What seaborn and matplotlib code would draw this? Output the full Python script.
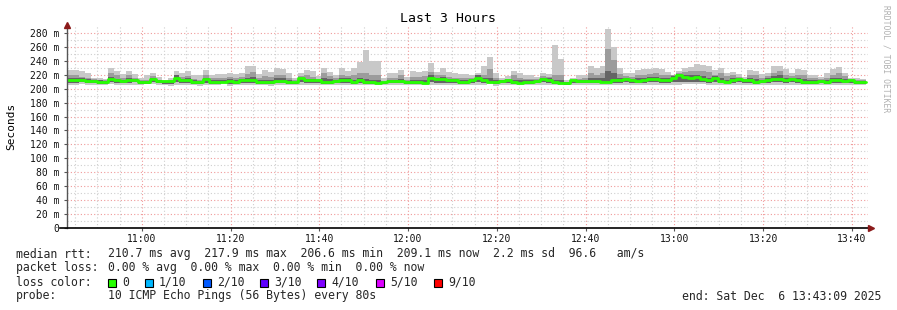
import numpy as np
import pandas as pd
import matplotlib
matplotlib.use("Agg")
import matplotlib.pyplot as plt
import seaborn as sns

# ---------------- data (ms), one value per 80 s step ----------------
hi = [227,227,226,222,216,216,214,230,225,221,
      225,221,215,219,223,217,212,216,225,223,
      226,219,220,227,220,221,221,222,221,222,
      232,233,221,227,224,229,228,223,215,222,
      227,226,218,230,224,220,229,225,230,238,
      255,240,240,215,222,223,227,217,226,224,
      225,237,224,229,224,223,221,221,220,223,
      233,246,222,215,218,226,223,219,220,217,
      222,221,263,243,212,216,220,220,232,229,
      232,285,260,229,222,222,227,228,228,230,
      228,224,220,226,230,231,235,234,233,227,
      229,223,224,221,217,227,226,221,223,232,
      233,228,222,228,227,219,220,217,222,228,
      231,222,216,215,214]
hi2 = [219,219,217,216,214,213,212,222,219,216,
       219,216,212,213,218,213,211,212,220,217,
       218,214,213,219,215,216,216,217,216,217,
       221,224,216,218,217,220,219,216,212,218,
       219,217,214,222,218,215,220,218,219,222,
       223,220,220,211,216,216,219,213,217,217,
       218,224,219,220,217,216,215,216,216,219,
       220,228,215,213,214,219,216,214,214,214,
       218,217,219,219,210,213,214,215,222,220,
       222,257,241,221,218,217,220,220,221,222,
       220,219,219,222,224,225,226,225,224,220,
       222,218,219,217,214,219,219,216,218,223,
       225,220,218,220,220,215,216,214,216,220,
       223,218,214,213,212]
hi3 = [215,215,215,214,213,212,211,217,214,213,
       215,214,211,211,216,212,210,210,219,214,
       215,212,211,216,213,213,213,214,213,214,
       216,217,213,212,213,215,215,213,210,216,
       214,214,213,215,214,213,216,215,213,216,
       214,213,213,210,213,213,214,211,212,213,
       212,219,216,217,214,214,212,213,214,219,
       215,216,212,212,213,213,212,212,212,212,
       216,215,213,212,209,213,212,213,215,215,
       215,225,222,216,216,214,215,215,217,217,
       215,216,218,221,220,219,220,218,216,218,
       215,213,215,216,213,215,214,213,215,218,
       219,216,216,216,214,212,213,212,213,215,
       216,214,213,211,211]
med = [212,212,213,211,211,210,209,214,212,211,
       212,213,210,209,214,211,211,211,216,212,
       212,209.5,209.5,214,210,210,210,211,210,212,
       213,212,210,209.5,209.5,211,211,209.5,209,215,
       212,212,212,209.5,209,211,212,212,210,213,
       210,209,208,210,211,211,211,209.5,209.5,209.5,
       208.6,216,214,214,212,212,209.5,210,213,216,
       212,210,209.5,211,212,210,208.6,210,209.5,211,
       214,213,209.5,208.6,207.6,212,211,211,211,211,
       210,210,212,213,214,212,211,212,214,214,
       212,213,216,219,217,216,217,214,212,215,
       211,210,213,214,212,212,210,211,213,214,
       214,213,214,212,210,209.5,210,211,210,212,
       212,211,212,210,210]
lo2 = [208,208,209,208,208,207,207,209,208,208,
       208,209,207,207,209,208,207,207,209,208,
       208,207,207,208,207,207,208,207,207,208,
       208,208,207,207,207,208,208,207,207,209,
       208,208,208,207,207,208,208,208,207,208,
       207,207,207,207,208,208,208,207,207,207,
       207,209,208,208,208,208,207,207,208,209,
       208,208,207,208,208,207,207,207,207,208,
       209,208,207,207,206,208,208,208,208,208,
       208,208,208,208,209,208,208,208,209,209,
       208,208,209,210,210,210,210,209,208,209,
       208,208,208,209,208,208,207,208,208,209,
       209,208,209,208,207,207,207,208,207,208,
       208,208,208,207,207]
lo = [206,206,207,206,206,206,205,207,206,206,
      205,206,205,207,207,206,205,204,206,206,
      206,205,204,205,206,206,207,204,206,205,
      206,206,206,205,204,206,205,206,206,206,
      206,206,206,205,206,205,206,206,205,206,
      206,206,205,205,206,206,206,205,205,206,
      206,206,205,206,206,206,205,206,206,205,
      206,207,204,205,206,205,205,206,205,206,
      206,206,206,206,205,206,206,206,206,206,
      206,206,206,206,206,206,206,206,206,205,
      206,206,206,206,207,207,207,207,206,206,
      206,206,206,206,206,206,206,206,206,205,
      206,206,206,206,205,205,206,206,206,206,
      206,206,206,206,206]

x_ticks = [60, 80, 100, 120, 140, 160, 180, 200, 220]
x_labels = ["11:00", "11:20", "11:40", "12:00", "12:20", "12:40", "13:00", "13:20", "13:40"]
y_ticks = [0, 20, 40, 60, 80, 100, 120, 140, 160, 180, 200, 220, 240, 260, 280]
y_labels = ["0"] + [f"{v} m" for v in y_ticks[1:]]

loss_labels = ["0", "1/10", "2/10", "3/10", "4/10", "5/10", "9/10"]
loss_colors = ["#26ff00", "#00b8ff", "#0059ff", "#5e00ff", "#7e00ff", "#dd00ff", "#ff0000"]

start_min = 43 + 9 / 60          # 10:43:09, minutes after 10:00
step_min = 80 / 60

# ---------------- build frame ----------------
n = len(med)
df = pd.DataFrame({"lo": lo, "lo2": lo2, "med": med, "hi3": hi3, "hi2": hi2, "hi": hi})
df = pd.concat([df, df.iloc[[-1]]], ignore_index=True)
df["t"] = start_min + np.arange(n + 1) * step_min

sns.set_theme(style="white")
plt.rcParams["font.family"] = ["DejaVu Sans Mono", "DejaVu Sans"]

W, H = 897, 310
fig = plt.figure(figsize=(W / 100, H / 100), dpi=100)
fig.patch.set_facecolor("white")
L, R, B, T = 67, 868, 228, 26
ax = fig.add_axes([L / W, 1 - B / H, (R - L) / W, (B - T) / H])
ax.set_facecolor("white")

xmin, xmax = start_min, start_min + 180 + 0.5
ax.set_xlim(xmin, xmax)
ax.set_ylim(0, 290)

# grid
for v in range(10, 290, 20):
    ax.axhline(v, color="#cfcfcf", lw=0.8, ls=(0, (1, 2)), zorder=0)
for v in range(20, 290, 20):
    ax.axhline(v, color="#f09a9a", lw=0.8, ls=(0, (1, 2)), zorder=0)
for m in range(45, 224, 5):
    if m % 20 != 0:
        ax.axvline(m, color="#cfcfcf", lw=0.8, ls=(0, (1, 2)), zorder=0)
for m in x_ticks:
    ax.axvline(m, color="#f09a9a", lw=0.8, ls=(0, (1, 2)), zorder=0)

# smoke
ax.fill_between(df["t"], df["lo"], df["hi"], step="post", color="#c8c8c8", lw=0, zorder=2)
ax.fill_between(df["t"], df["lo2"], df["hi2"], step="post", color="#9c9c9c", lw=0, zorder=3)
ax.fill_between(df["t"], df["lo2"], df["hi3"], step="post", color="#646464", lw=0, zorder=4)

# median line
sns.lineplot(data=df, x="t", y="med", drawstyle="steps-post", color="#26ff00",
             lw=2.0, ax=ax, zorder=6, legend=False)

# axes styling
for s in ["top", "right"]:
    ax.spines[s].set_visible(False)
ax.spines["bottom"].set_color("#000000")
ax.spines["bottom"].set_linewidth(1.2)
ax.spines["left"].set_color("#555555")
ax.spines["left"].set_linewidth(1.0)
ax.spines["bottom"].set_zorder(8)
ax.spines["left"].set_zorder(8)
ax.spines["bottom"].set_bounds(xmin - 1.5, xmax)

ax.set_xticks(x_ticks)
ax.set_xticklabels(x_labels, fontsize=7)
ax.set_yticks(y_ticks)
ax.set_yticklabels(y_labels, fontsize=7)
ax.tick_params(axis="both", length=2.5, width=0.8, color="#555555", labelcolor="#111111")
ax.tick_params(axis="x", bottom=True, pad=1.5)
ax.tick_params(axis="y", left=True, pad=3)
ax.set_xlabel("")
ax.set_ylabel("")

# arrows
ax.plot([xmax + 0.6], [0], marker=">", color="#8b1a1a", ms=4, clip_on=False, zorder=9)
ax.plot([xmin], [292], marker="^", color="#8b1a1a", ms=4, clip_on=False, zorder=9)

# titles / labels
fig.text(448 / W, 1 - 19 / H, "Last 3 Hours", ha="center", va="center", fontsize=9.5, color="#000000")
fig.text(11 / W, 1 - 126 / H, "Seconds", ha="center", va="center", rotation=90, fontsize=8, color="#000000")
fig.text(886 / W, 1 - 59 / H, "RRDTOOL / TOBI OETIKER", ha="center", va="center", rotation=270,
         fontsize=5.8, color="#b0b0b0")

# legend block
fs = 8.3
def row(y, label, value):
    fig.text(16 / W, 1 - y / H, label, ha="left", va="center", fontsize=fs)
    if value:
        fig.text(108 / W, 1 - y / H, value, ha="left", va="center", fontsize=fs)

row(254, "median rtt:", "210.7 ms avg  217.9 ms max  206.6 ms min  209.1 ms now  2.2 ms sd  96.6   am/s")
row(268, "packet loss:", "0.00 % avg  0.00 % max  0.00 % min  0.00 % now")
row(282, "loss color:", "")
row(296, "probe:", "10 ICMP Echo Pings (56 Bytes) every 80s")
fig.text(881 / W, 1 - 296 / H, "end: Sat Dec  6 13:43:09 2025", ha="right", va="center", fontsize=fs)

box_x = [108, 145, 203, 260, 317, 376, 434]
for bx, lab, col in zip(box_x, loss_labels, loss_colors):
    fig.patches.append(plt.Rectangle((bx / W, 1 - 286.5 / H), 8 / W, 8 / H, transform=fig.transFigure,
                                     facecolor=col, edgecolor="#000000", lw=0.8))
    fig.text((bx + 14) / W, 1 - 282 / H, lab, ha="left", va="center", fontsize=fs)

fig.savefig("out.png", dpi=100, facecolor="white")
